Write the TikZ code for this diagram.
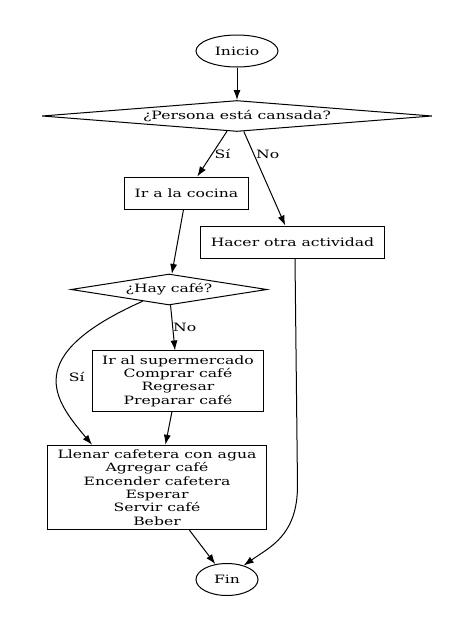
\documentclass[tikz,border=0pt]{standalone}
\usepackage{fontspec}
\setmainfont{DejaVu Serif}[FakeStretch=1.36]
\usetikzlibrary{shapes.geometric, positioning, arrows.meta}

\begin{document}
\begin{tikzpicture}[>={Latex[length=10pt,width=7pt]}, line width=1pt, on grid,
  every node/.style={font=\fontsize{11.5}{13.3}\selectfont},
  terminal/.style={draw, ellipse, minimum width=62pt, minimum height=32pt, inner sep=0pt},
  decision/.style={draw, diamond, minimum height=31pt, inner sep=0pt},
  process/.style={draw, rectangle, align=center, minimum height=32pt, inner xsep=10pt, inner ysep=4.5pt}]
  \useasboundingbox (0,0) rectangle (474pt,-632pt);

  % Define steps
  \node[terminal, minimum width=82pt] (inicio) at (237pt,-51pt) {Inicio};
  \node[decision, aspect=12.6, minimum width=390pt] (cansada) [below=65pt of inicio] {¿Persona está cansada?};
  \node[process] (cocina) [below left=77pt and 50.5pt of cansada] {Ir a la cocina};
  \node[process] (otra) [below right=126pt and 55.5pt of cansada] {Hacer otra actividad};
  \node[decision, aspect=6.3, minimum width=196pt] (haycafe) [below left=96.5pt and 17.5pt of cocina] {¿Hay café?};
  \node[process] (super) [below right=91.5pt and 9pt of haycafe] {Ir al supermercado\\Comprar café\\Regresar\\Preparar café};
  \node[process] (preparar) [below left=106.5pt and 21pt of super] {Llenar cafetera con agua\\Agregar café\\Encender cafetera\\Esperar\\Servir café\\Beber};
  \node[terminal] (fin) [below right=92pt and 70pt of preparar] {Fin};

  % Define transitions
  \path[->]
    (inicio) edge (cansada)
    (cansada) edge node[pos=0.5, anchor=west, inner sep=2pt] {Sí} (cocina)
              edge node[pos=0.24, anchor=west, inner sep=2pt] {No} (otra)
    (cocina) edge (haycafe)
    (haycafe) edge node[pos=0.48, anchor=west, inner sep=0pt] {No} (super)
    (super) edge (preparar)
    (preparar) edge (fin);
  \draw[->] (haycafe.204) .. controls +(204:135pt) and +(130:58pt) .. ([xshift=45pt]preparar.north west)
    node[pos=0.5, right=8pt] {Sí};
  \draw[->] ([xshift=2.5pt]otra.south) -- ++(2.5pt,-227pt) .. controls +(0,-50pt) and +(26.4pt,18.6pt) .. (fin.40);

\end{tikzpicture}
\end{document}
